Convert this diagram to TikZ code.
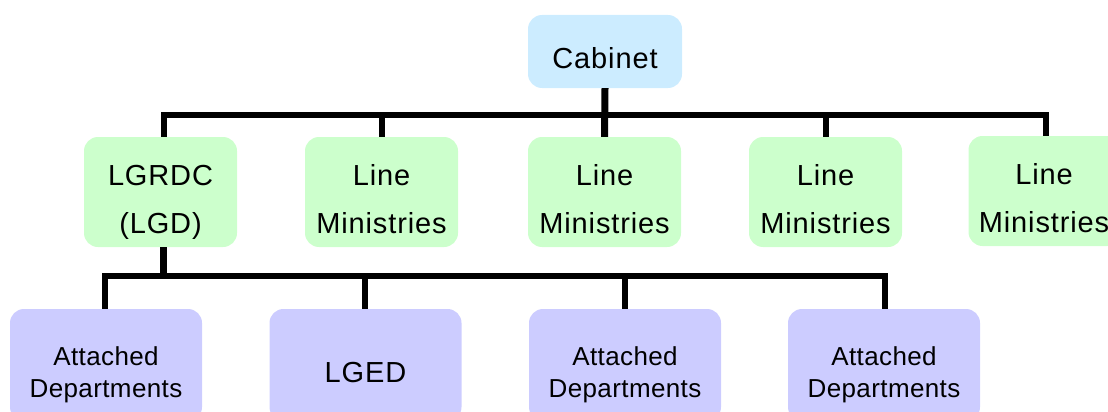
\documentclass[tikz,border=0pt]{standalone}
\usepackage{fontspec}
\setmainfont{Liberation Sans}
\newfontfamily\bigspaced[LetterSpace=3]{Liberation Sans}
\newfontfamily\smallspaced[LetterSpace=1.5]{Liberation Sans}
\definecolor{cabblue}{HTML}{CCECFF}
\definecolor{mingreen}{HTML}{CCFFCC}
\definecolor{deppurple}{HTML}{CCCCFF}
\begin{document}
\begin{tikzpicture}[x=1pt,y=-1pt,
  box/.style={rectangle, rounded corners=14pt, inner sep=0pt, draw=none},
  cabbox/.style={box, fill=cabblue, minimum width=154pt, minimum height=73pt},
  minbox/.style={box, fill=mingreen, minimum width=153pt, minimum height=110pt},
  depbox/.style={box, fill=deppurple, minimum width=192pt, minimum height=112pt},
  bigtxt/.style={inner sep=0pt, anchor=base, font=\bigspaced\fontsize{29}{34}\selectfont},
  smalltxt/.style={inner sep=0pt, anchor=base, font=\smallspaced\fontsize{26}{30}\selectfont},
  conn/.style={line width=6pt, black, line join=miter, line cap=butt}]
\useasboundingbox (0,0) rectangle (1108,412);
\clip (0,0) rectangle (1108,412);

% boxes
\node[cabbox] (cab) at (605,51.5) {};
\node[minbox] (g1) at (160.5,192) {};
\node[minbox] (g2) at (381.5,192) {};
\node[minbox] (g3) at (604.5,192) {};
\node[minbox] (g4) at (825.5,192) {};
\node[minbox] (g5) at (1045,191) {};
\node[depbox] (p1) at (106,365) {};
\node[depbox] (p2) at (365.5,365) {};
\node[depbox] (p3) at (625,365) {};
\node[depbox] (p4) at (884,365) {};

% texts
\node[bigtxt] (tcab) at (605,69) {Cabinet};
\node[bigtxt] (tg1a) at (160.5,185) {LGRDC};
\node[bigtxt] (tg1b) at (160.5,233) {(LGD)};
\node[bigtxt] (tg2a) at (381.5,185) {Line};
\node[bigtxt] (tg2b) at (381.5,233) {Ministries};
\node[bigtxt] (tg3a) at (604.5,185) {Line};
\node[bigtxt] (tg3b) at (604.5,233) {Ministries};
\node[bigtxt] (tg4a) at (825.5,185) {Line};
\node[bigtxt] (tg4b) at (825.5,233) {Ministries};
\node[bigtxt] (tg5a) at (1044,184) {Line};
\node[bigtxt] (tg5b) at (1044,232) {Ministries};
\node[smalltxt] (tp1a) at (106,365) {Attached};
\node[smalltxt] (tp1b) at (106,397) {Departments};
\node[bigtxt] (tp2) at (365.5,382) {LGED};
\node[smalltxt] (tp3a) at (625,365) {Attached};
\node[smalltxt] (tp3b) at (625,397) {Departments};
\node[smalltxt] (tp4a) at (884,365) {Attached};
\node[smalltxt] (tp4b) at (884,397) {Departments};

% connectors
\coordinate (bus1) at (605,114.5);
\coordinate (bus2) at (163.5,276);
\draw[conn, line width=7pt] (cab.south) -- (g3.north);
\draw[conn] ([xshift=3.5pt]g1.north) -- ([xshift=3.5pt]g1.north |- bus1) -- ([xshift=1pt]g5.north |- bus1) -- ([xshift=1pt]g5.north);
\draw[conn] (g2.north) -- (g2.north |- bus1);
\draw[conn] (g4.north) -- (g4.north |- bus1);
\draw[conn, line width=7pt] ([xshift=3pt]g1.south) -- (bus2);
\draw[conn] ([xshift=-1pt]p1.north) -- ([xshift=-1pt]p1.north |- bus2) -- ([xshift=0.5pt]p4.north |- bus2) -- ([xshift=0.5pt]p4.north);
\draw[conn] ([xshift=-1pt]p2.north) -- ([xshift=-1pt]p2.north |- bus2);
\draw[conn] (p3.north) -- (p3.north |- bus2);
\end{tikzpicture}
\end{document}
